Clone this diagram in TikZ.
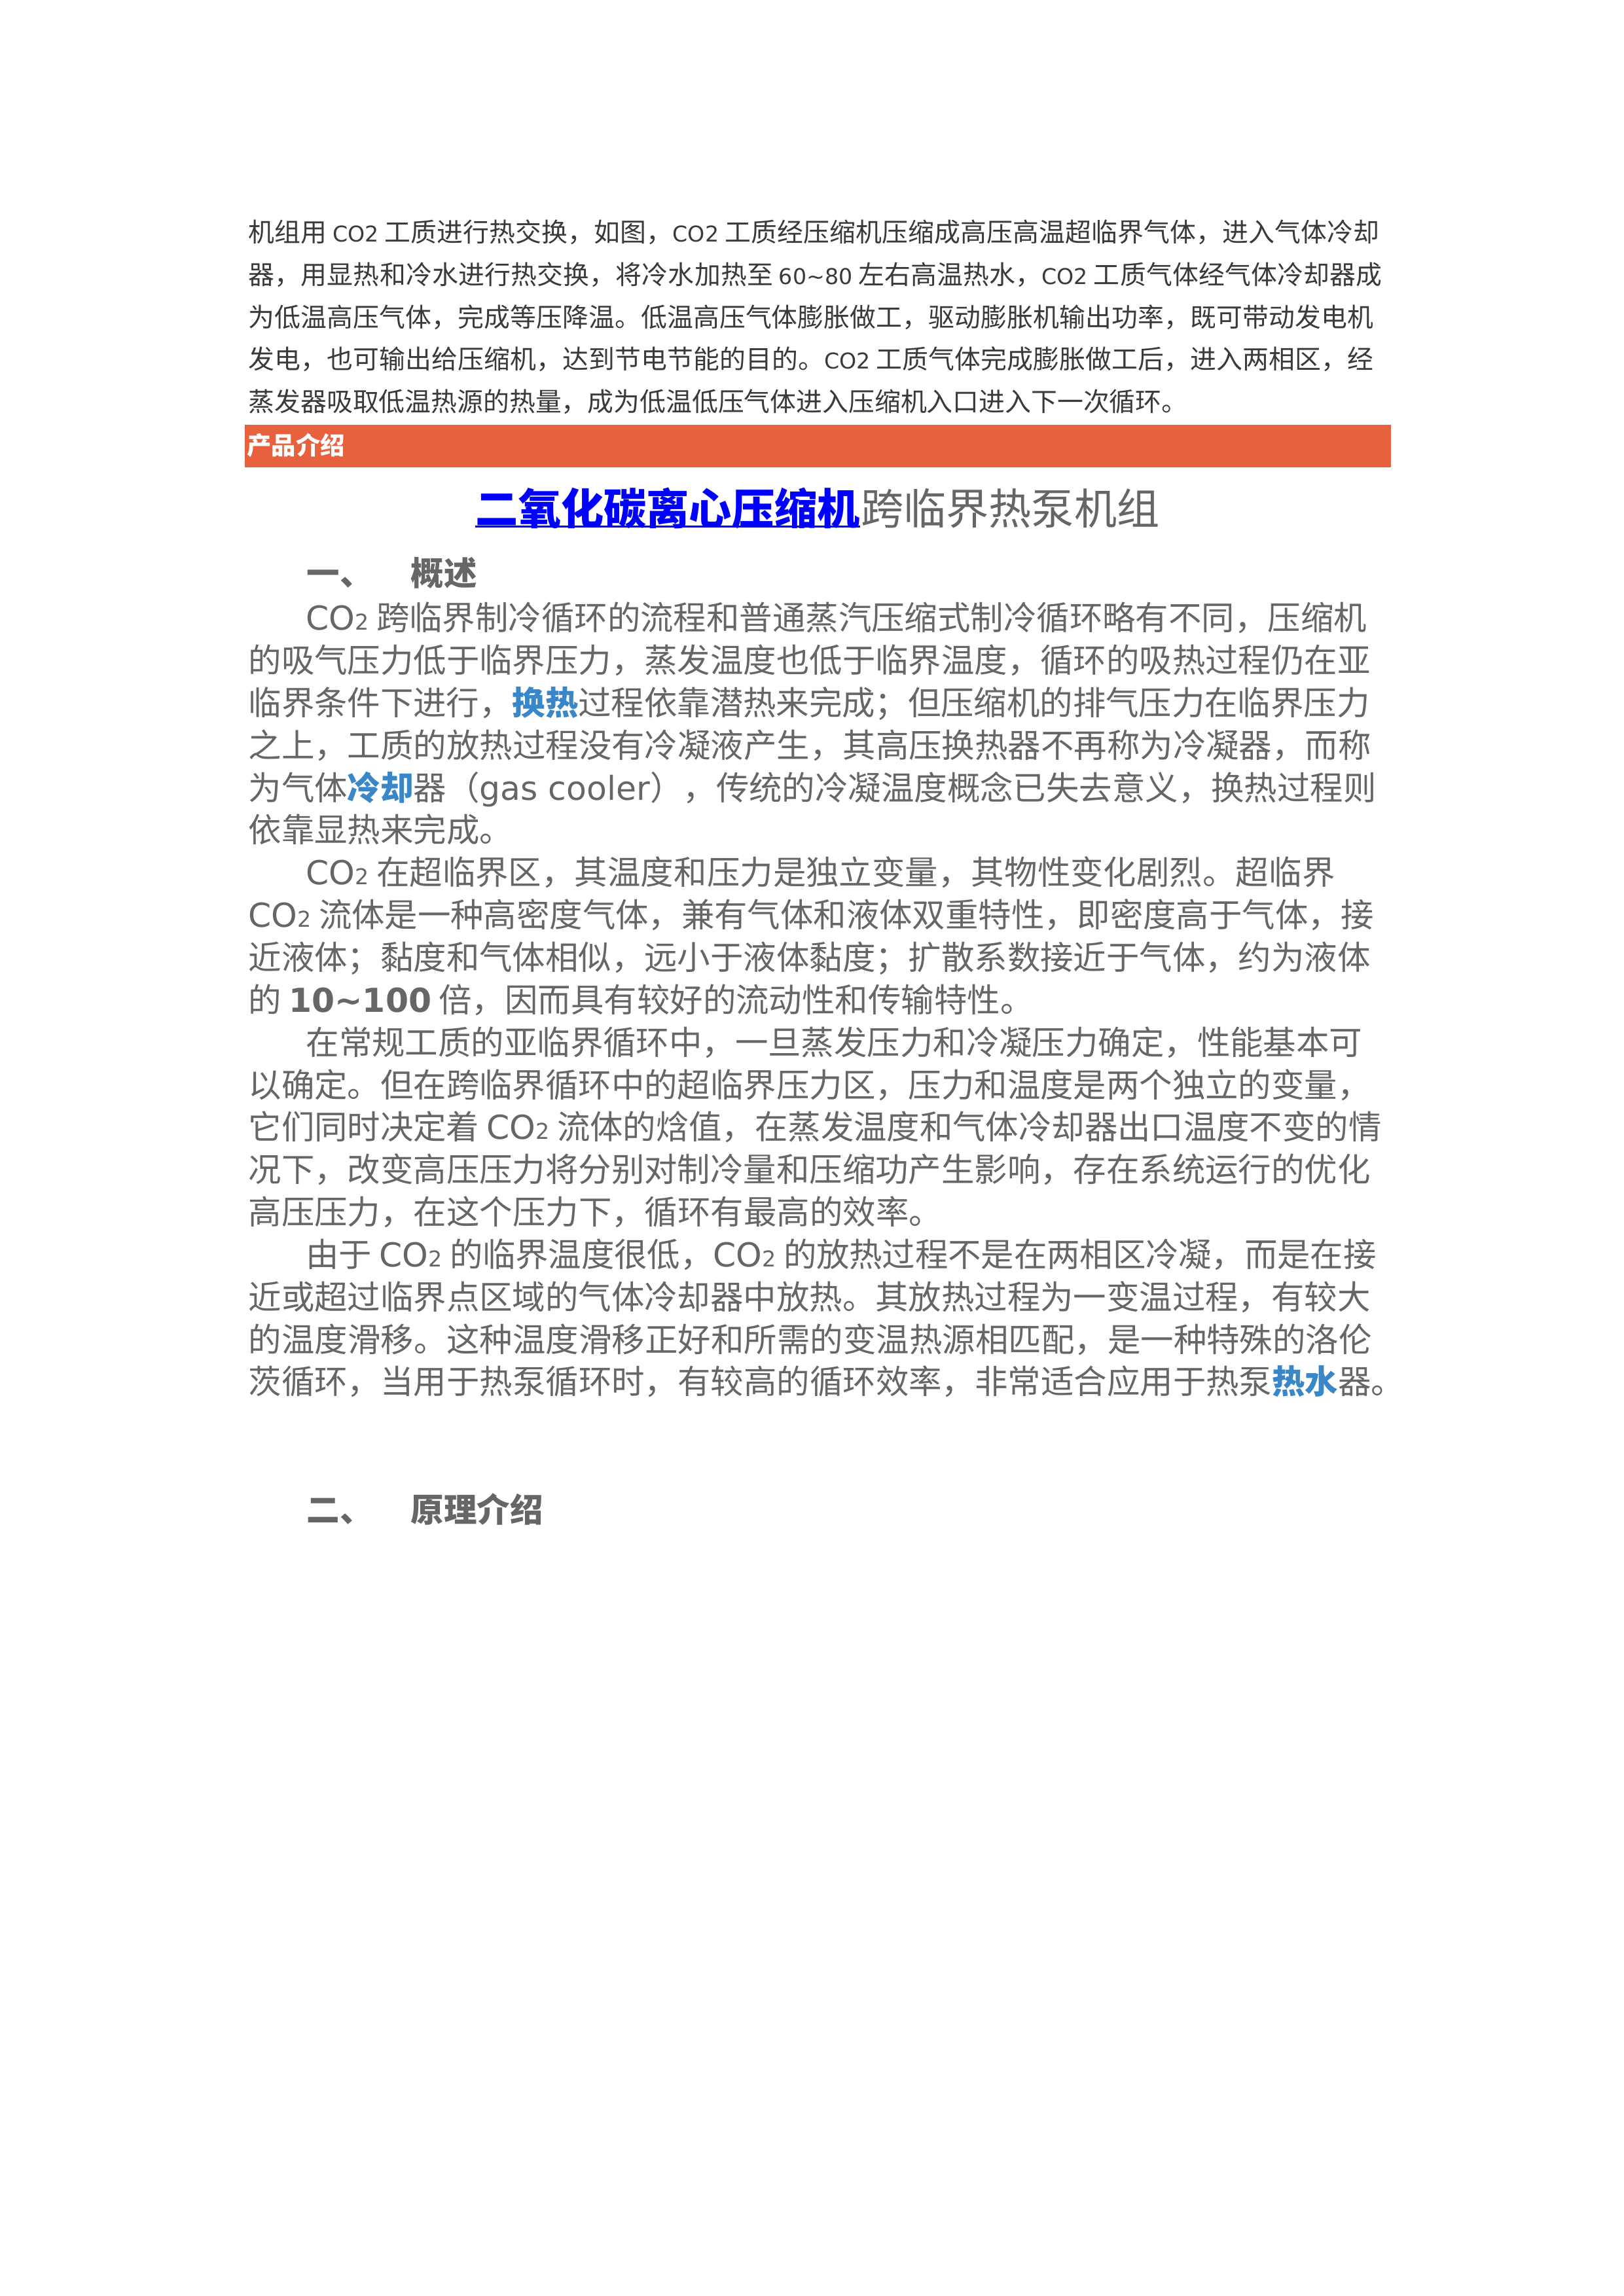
\documentclass[tikz,border=0pt]{standalone}
\usepackage{fontspec}
\usepackage{graphicx}
\setmainfont{Noto Sans CJK SC}
\newfontfamily\latfont{DejaVu Sans}
\definecolor{introtext}{HTML}{3A3A3A}
\definecolor{bodytext}{HTML}{666666}
\definecolor{barfill}{HTML}{E8613F}
\definecolor{linkblue}{HTML}{3A87C8}
\definecolor{titleblue}{HTML}{0000FF}
\XeTeXinterchartokenstate=1
\newXeTeXintercharclass\hanclass
\newcount\hanidx
\newcommand\sethanrange[2]{%
  \hanidx=#1\relax
  \loop
    \XeTeXcharclass\hanidx=\hanclass
  \ifnum\hanidx<#2\relax
    \advance\hanidx by 1
  \repeat}
\sethanrange{"3000}{"303F}
\sethanrange{"4E00}{"9FFF}
\sethanrange{"FF00}{"FFEF}
\XeTeXinterchartoks\hanclass\hanclass={\hskip 0pt plus 1fil minus 1fil\relax}
\newdimen\pxlen
\pxlen=0.54318pt
\newcommand\jline[2]{\hbox to #1\pxlen{#2}}
\newcommand\lat[1]{{\latfont #1}}
\newcommand\latsm[1]{{\latfont\fontsize{8}{10}\selectfont #1}}
\newcommand\cotwo{{\latfont CO\scalebox{0.66}{2}}}
\newcommand\lk[1]{{\color{linkblue}\bfseries #1}}
\begin{document}
\begin{tikzpicture}[x=0.0190909cm, y=-0.0190909cm,
    intro/.style={anchor=base west, inner sep=0pt, text=introtext, font=\fontsize{9.6}{11}\selectfont},
    body/.style={anchor=base west, inner sep=0pt, text=bodytext, font=\fontsize{12.15}{14}\selectfont},
    head/.style={anchor=base west, inner sep=0pt, text=bodytext, font=\fontsize{12.15}{14}\selectfont\bfseries},
    bartext/.style={anchor=base west, inner sep=0pt, text=white, font=\fontsize{9}{10}\selectfont\bfseries},
    titlelink/.style={anchor=base west, inner sep=0pt, text=titleblue, font=\fontsize{15.7}{18}\selectfont\bfseries},
    titlerest/.style={anchor=base west, inner sep=0pt, text=bodytext, font=\fontsize{15.7}{18}\selectfont}]
  \useasboundingbox[fill=white] (0,0) rectangle (1100,1555.7);
  \node[intro] (i1) at (168,164.0) {\jline{766}{机组用 \latsm{CO2} 工质进行热交换，如图，\latsm{CO2} 工质经压缩机压缩成高压高温超临界气体，进入气体冷却}};
  \node[intro] (i2) at (168,192.7) {\jline{768}{器，用显热和冷水进行热交换，将冷水加热至 \latsm{60\textasciitilde 80} 左右高温热水，\latsm{CO2} 工质气体经气体冷却器成}};
  \node[intro] (i3) at (168,221.4) {\jline{762}{为低温高压气体，完成等压降温。低温高压气体膨胀做工，驱动膨胀机输出功率，既可带动发电机}};
  \node[intro] (i4) at (168,250.1) {\jline{762}{发电，也可输出给压缩机，达到节电节能的目的。\latsm{CO2} 工质气体完成膨胀做工后，进入两相区，经}};
  \node[intro] (i5) at (168,278.8) {蒸发器吸取低温热源的热量，成为低温低压气体进入压缩机入口进入下一次循环。};
  \fill[barfill] (166,288) rectangle (942.5,316.5);
  \node[bartext] (barlabel) at (167,307.9) {产品介绍};
  \node[titlelink] (tlink) at (322,355.6) {二氧化碳离心压缩机};
  \node[titlerest] (trest) at (tlink.base east) {跨临界热泵机组};
  \draw[titleblue, line width=0.87pt] ([yshift=-0.6pt]tlink.base west) -- ([yshift=-0.6pt]tlink.base east);
  \node[head] (h1num) at (207.5,396.5) {一、};
  \node[head] (h1txt) at (278,396.5) {概述};
  \node[body] (b1) at (207,426.9) {\jline{718.5}{\cotwo{} 跨临界制冷循环的流程和普通蒸汽压缩式制冷循环略有不同，压缩机}};
  \node[body] (b2) at (168,455.66) {\jline{760}{的吸气压力低于临界压力，蒸发温度也低于临界温度，循环的吸热过程仍在亚}};
  \node[body] (b3) at (168,484.42) {\jline{759.5}{临界条件下进行，\lk{换热}过程依靠潜热来完成；但压缩机的排气压力在临界压力}};
  \node[body] (b4) at (168,513.18) {\jline{760.5}{之上，工质的放热过程没有冷凝液产生，其高压换热器不再称为冷凝器，而称}};
  \node[body] (b5) at (168,541.94) {\jline{764}{为气体\lk{冷却}器（\lat{gas cooler}），传统的冷凝温度概念已失去意义，换热过程则}};
  \node[body] (b6) at (168,570.7) {依靠显热来完成。};
  \node[body] (b7) at (207,599.46) {\jline{697}{\cotwo{} 在超临界区，其温度和压力是独立变量，其物性变化剧烈。超临界}};
  \node[body] (b8) at (168,628.22) {\jline{762.5}{\cotwo{} 流体是一种高密度气体，兼有气体和液体双重特性，即密度高于气体，接}};
  \node[body] (b9) at (168,656.98) {\jline{760}{近液体；黏度和气体相似，远小于液体黏度；扩散系数接近于气体，约为液体}};
  \node[body] (b10) at (168,685.74) {的 \lat{\bfseries 10\textasciitilde 100} 倍，因而具有较好的流动性和传输特性。};
  \node[body] (b11) at (207,714.5) {\jline{715.5}{在常规工质的亚临界循环中，一旦蒸发压力和冷凝压力确定，性能基本可}};
  \node[body] (b12) at (168,743.26) {\jline{760}{以确定。但在跨临界循环中的超临界压力区，压力和温度是两个独立的变量，}};
  \node[body] (b13) at (168,772.02) {\jline{767.5}{它们同时决定着 \cotwo{} 流体的焓值，在蒸发温度和气体冷却器出口温度不变的情}};
  \node[body] (b14) at (168,800.78) {\jline{760}{况下，改变高压压力将分别对制冷量和压缩功产生影响，存在系统运行的优化}};
  \node[body] (b15) at (168,829.54) {高压压力，在这个压力下，循环有最高的效率。};
  \node[body] (b16) at (207,858.3) {\jline{725}{由于 \cotwo{} 的临界温度很低，\cotwo{} 的放热过程不是在两相区冷凝，而是在接}};
  \node[body] (b17) at (168,887.06) {\jline{760}{近或超过临界点区域的气体冷却器中放热。其放热过程为一变温过程，有较大}};
  \node[body] (b18) at (168,915.82) {\jline{761}{的温度滑移。这种温度滑移正好和所需的变温热源相匹配，是一种特殊的洛伦}};
  \node[body] (b19) at (168,944.58) {茨循环，当用于热泵循环时，有较高的循环效率，非常适合应用于热泵\lk{热水}器。};
  \node[head] (h2num) at (207.5,1031.5) {二、};
  \node[head] (h2txt) at (278,1031.5) {原理介绍};
\end{tikzpicture}
\end{document}
